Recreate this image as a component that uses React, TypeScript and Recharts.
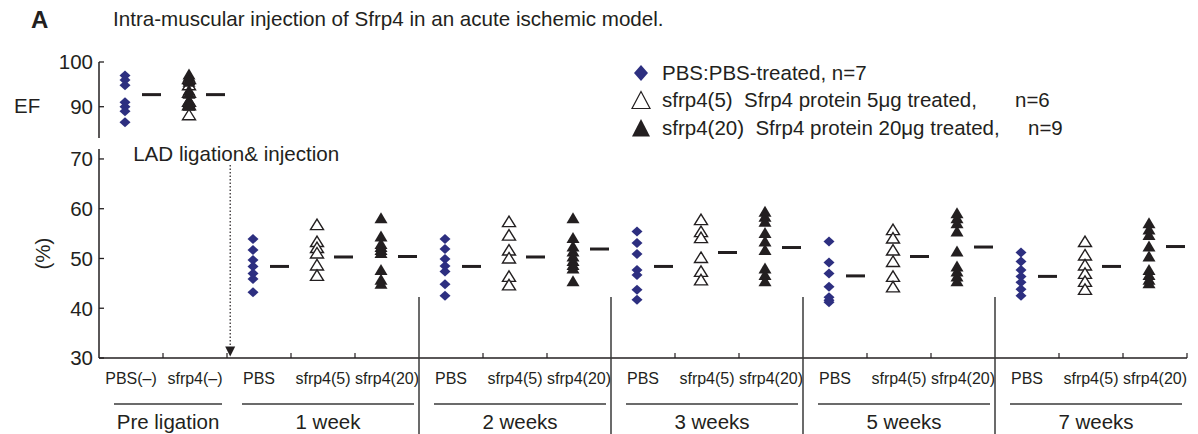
import React from 'react';
import {Legend, ReferenceDot, ReferenceLine, Scatter, ScatterChart, XAxis, YAxis} from 'recharts';

// x axis: one slot per column, grouped by time point
const CATEGORIES = [
    'PBS(–)', 'sfrp4(–)',
    'PBS', 'sfrp4(5)', 'sfrp4(20)',
    'PBS', 'sfrp4(5)', 'sfrp4(20)',
    'PBS', 'sfrp4(5)', 'sfrp4(20)',
    'PBS', 'sfrp4(5)', 'sfrp4(20)',
    'PBS', 'sfrp4(5)', 'sfrp4(20)',
];
const GROUP_LABELS = ['Pre ligation', '1 week', '2 weeks', '3 weeks', '5 weeks', '7 weeks'];
const GROUP_SIZES = [2, 3, 3, 3, 3, 3];

// EF (%) before ligation, upper panel
const PRE_PBS = [97, 96, 94.8, 91, 90, 89, 86.5];
const PRE_SFRP5 = [96.3, 94.9, 93.2, 91.2, 90.4, 88.2];
const PRE_SFRP20 = [97.2, 96.7, 96.0, 95.6, 93.6, 92.9, 91.4, 90.8, 90.2];
const PRE_MEANS = [92.7, 92.7];

// EF (%) after ligation, one row per time point (1, 2, 3, 5, 7 weeks)
const PBS_WEEKS = [
    [53.9, 51.7, 49.7, 48.4, 47.0, 45.9, 43.2],
    [53.9, 51.9, 49.9, 48.5, 47.4, 44.8, 42.5],
    [55.4, 53.1, 50.9, 47.7, 46.7, 43.7, 41.7],
    [53.4, 49.2, 47.0, 44.3, 42.2, 41.6, 41.2],
    [51.2, 49.4, 47.7, 46.4, 45.2, 43.8, 42.5],
];
const SFRP5_WEEKS = [
    [56.8, 53.4, 52.2, 51.1, 48.7, 46.6],
    [57.4, 54.7, 51.7, 50.1, 46.4, 44.7],
    [57.8, 55.4, 54.2, 50.2, 47.4, 45.7],
    [55.8, 54.1, 51.7, 49.4, 46.4, 44.3],
    [53.4, 50.7, 48.7, 47.0, 45.4, 43.8],
];
const SFRP20_WEEKS = [
    [58.1, 54.4, 52.9, 52.3, 51.7, 51.1, 47.7, 45.7, 44.9],
    [58.1, 54.1, 52.4, 51.4, 50.4, 49.5, 48.7, 48.0, 45.4],
    [59.4, 58.4, 57.4, 55.1, 53.4, 51.7, 48.0, 46.7, 45.4],
    [59.1, 58.1, 57.1, 55.4, 51.4, 48.4, 47.4, 46.4, 45.4],
    [57.1, 55.8, 54.7, 52.4, 50.4, 47.7, 46.7, 45.7, 45.0],
];
const PBS_MEANS = [48.4, 48.4, 48.4, 46.5, 46.4];
const SFRP5_MEANS = [50.3, 50.3, 51.2, 50.4, 48.4];
const SFRP20_MEANS = [50.4, 51.9, 52.2, 52.3, 52.4];

const LOWER_TICKS = [30, 40, 50, 60, 70];
const UPPER_TICKS = [90, 100];
const LIGATION_AT = 1.55;

const LEGEND_LABELS = ['PBS:PBS-treated, n=7', 'sfrp4(5)  Sfrp4 protein 5\u03bcg treated,', 'sfrp4(20)  Sfrp4 protein 20\u03bcg treated,'];
const LEGEND_COUNTS = ['', 'n=6', 'n=9'];

const W = 1198;
const H = 434;
const LEFT = 99;
const RIGHT = 11;
const BAND = (W - LEFT - RIGHT) / CATEGORIES.length;
const INK = '#231f20';
const NAVY = '#2d2f80';
const FONT = "'Liberation Sans', Arial, Helvetica, sans-serif";
const X_DOMAIN: [number, number] = [-0.5, CATEGORIES.length - 0.5];

const groupStart = GROUP_SIZES.map((_, g) => GROUP_SIZES.slice(0, g).reduce((a, b) => a + b, 0));
const groupOf = CATEGORIES.map((_, i) => groupStart.filter((s) => s <= i).length - 1);

const weekPoints = (weeks: number[][], offset: number) =>
    weeks.flatMap((vals, w) => vals.map((y) => ({x: groupStart[w + 1] + offset, y})));
const weekMeans = (means: number[], offset: number) =>
    means.map((y, w) => ({x: groupStart[w + 1] + offset, y}));

const pbsData = weekPoints(PBS_WEEKS, 0);
const sfrp5Data = weekPoints(SFRP5_WEEKS, 1);
const sfrp20Data = weekPoints(SFRP20_WEEKS, 2);
const meanData = [...weekMeans(PBS_MEANS, 0), ...weekMeans(SFRP5_MEANS, 1), ...weekMeans(SFRP20_MEANS, 2)];
const prePbs = PRE_PBS.map((y) => ({x: 0, y}));
const preSfrp5 = PRE_SFRP5.map((y) => ({x: 1, y}));
const preSfrp20 = PRE_SFRP20.map((y) => ({x: 1, y}));
const preMeans = PRE_MEANS.map((y, i) => ({x: i, y}));

const DX = -6;

const Diamond = ({cx, cy}: any) => {
    const px = cx + DX;
    return <polygon points={`${px},${cy - 5} ${px + 5.5},${cy} ${px},${cy + 5} ${px - 5.5},${cy}`} fill={NAVY}/>;
};
const OpenTriangle = ({cx, cy}: any) => {
    const px = cx + DX;
    return <polygon points={`${px},${cy - 5.5} ${px + 6.5},${cy + 5} ${px - 6.5},${cy + 5}`} fill="#fff" stroke={INK} strokeWidth={1.4}/>;
};
const FilledTriangle = ({cx, cy}: any) => {
    const px = cx + DX;
    return <polygon points={`${px},${cy - 6} ${px + 6.5},${cy + 5} ${px - 6.5},${cy + 5}`} fill={INK}/>;
};
const MeanDash = ({cx, cy}: any) => (
    <line x1={cx + 11} x2={cx + 30} y1={cy} y2={cy} stroke={INK} strokeWidth={3}/>
);

function ValueTick({x, y, payload}: any) {
    return (
        <g>
            <line x1={x} x2={x + 5} y1={y} y2={y} stroke={INK} strokeWidth={1.3}/>
            <text x={x - 6} y={y} dy="0.36em" textAnchor="end" fontSize={20.5} fill={INK}>{payload.value}</text>
        </g>
    );
}

function CategoryTick({x, y, payload}: any) {
    const i = payload.value as number;
    const g = groupOf[i];
    const start = groupStart[g];
    const end = start + GROUP_SIZES[g] - 1;
    const isDividerAfter = i === end && g >= 1 && g < GROUP_SIZES.length - 1;
    const x0 = x - 17;
    const x1 = x + (end - start) * BAND + 27;
    return (
        <g>
            <text x={x} y={y + 26} textAnchor="middle" fontSize={16} fill={INK}>{CATEGORIES[i]}</text>
            {!isDividerAfter && (
                <line x1={x + BAND / 2} x2={x + BAND / 2} y1={y} y2={y - 5} stroke={INK} strokeWidth={1.2}/>
            )}
            {i === start && g >= 2 && (
                <line x1={x - BAND / 2} x2={x - BAND / 2} y1={y - 61} y2={y + 76} stroke="#3a3a3a" strokeWidth={1.5}/>
            )}
            {i === start && (
                <g>
                    <line x1={x0} x2={x1} y1={y + 46} y2={y + 46} stroke="#3a3a3a" strokeWidth={1.5}/>
                    <text x={(x0 + x1) / 2} y={y + 71} textAnchor="middle" fontSize={20.5} fill={INK}>{GROUP_LABELS[g]}</text>
                </g>
            )}
        </g>
    );
}

const legendIcons = [
    <polygon key="d" points="11,3 18,11 11,19 4,11" fill={NAVY}/>,
    <polygon key="o" points="11,2.5 20,19.5 2,19.5" fill="#fff" stroke={INK} strokeWidth={1.2}/>,
    <polygon key="f" points="11,2 20,19.5 2,19.5" fill={INK}/>,
];
const COUNT_LEFT = [0, 385, 398];

const renderLegend = () => (
    <div style={{position: 'relative', width: 560, height: 84, fontSize: 20.5, color: INK, fontFamily: FONT}}>
        {LEGEND_LABELS.map((label, k) => (
            <div key={k} style={{position: 'absolute', top: k * 27.5, left: 0, width: 560, height: 27.5, display: 'flex', alignItems: 'center', whiteSpace: 'pre'}}>
                <svg width={22} height={22} style={{flex: 'none'}}>{legendIcons[k]}</svg>
                <span style={{marginLeft: 10}}>{label}</span>
                {LEGEND_COUNTS[k] && (
                    <span style={{position: 'absolute', left: COUNT_LEFT[k]}}>{LEGEND_COUNTS[k]}</span>
                )}
            </div>
        ))}
    </div>
);

export default function App() {
    return (
        <div style={{position: 'absolute', left: 0, top: 0, width: W, height: H, background: '#fff', fontFamily: FONT, color: INK}}>
            <div style={{position: 'absolute', left: 31, top: 8, fontSize: 24, lineHeight: 1, fontWeight: 'bold'}}>A</div>
            <div style={{position: 'absolute', left: 113, top: 9, fontSize: 20.6, lineHeight: 1}}>
                Intra-muscular injection of Sfrp4 in an acute ischemic model.
            </div>

            <div style={{position: 'absolute', left: 0, top: 0}}>
                <ScatterChart width={W} height={H} margin={{top: 149, right: RIGHT, bottom: 0, left: 0}}>
                    <XAxis dataKey="x" type="number" domain={X_DOMAIN} ticks={CATEGORIES.map((_, i) => i)} interval={0}
                           height={76} tickSize={0} tickMargin={0} tickLine={false}
                           axisLine={{stroke: INK, strokeWidth: 1.5}} tick={(p: any) => <CategoryTick {...p}/>}/>
                    <YAxis dataKey="y" type="number" domain={[30, 72]} ticks={LOWER_TICKS} width={LEFT}
                           tickSize={0} tickMargin={0} tickLine={false} axisLine={{stroke: INK, strokeWidth: 1.5}}
                           tick={(p: any) => <ValueTick {...p}/>}
                           label={{value: '(%)', angle: -90, position: 'center', dx: -7, fontSize: 20.5, fill: INK}}/>
                    <ReferenceLine segment={[{x: LIGATION_AT, y: 68.8}, {x: LIGATION_AT, y: 32.3}]} ifOverflow="visible"
                                   stroke={INK} strokeWidth={1.2} strokeDasharray="1.5 2"/>
                    <ReferenceDot x={LIGATION_AT} y={31.3} ifOverflow="visible"
                                  shape={({cx, cy}: any) => (
                                      <polygon points={`${cx - 5},${cy - 5} ${cx + 5},${cy - 5} ${cx},${cy + 5}`} fill={INK}/>
                                  )}/>
                    <ReferenceDot x={LIGATION_AT} y={69.6} ifOverflow="visible"
                                  shape={({cx, cy}: any) => (
                                      <text x={cx + 6} y={cy} textAnchor="middle" fontSize={20.6} fill={INK}>LAD ligation&amp; injection</text>
                                  )}/>
                    <Scatter data={pbsData} shape={Diamond} isAnimationActive={false}/>
                    <Scatter data={sfrp5Data} shape={OpenTriangle} isAnimationActive={false}/>
                    <Scatter data={sfrp20Data} shape={FilledTriangle} isAnimationActive={false}/>
                    <Scatter data={meanData} shape={MeanDash} isAnimationActive={false}/>
                </ScatterChart>
            </div>

            <div style={{position: 'absolute', left: 0, top: 0}}>
                <ScatterChart width={W} height={140} margin={{top: 62, right: RIGHT, bottom: 2, left: 0}}>
                    <XAxis dataKey="x" type="number" domain={X_DOMAIN} hide/>
                    <YAxis dataKey="y" type="number" domain={[83, 100]} ticks={UPPER_TICKS} width={LEFT}
                           tickSize={0} tickMargin={0} tickLine={false} axisLine={{stroke: INK, strokeWidth: 1.5}}
                           tick={(p: any) => <ValueTick {...p}/>}
                           label={{value: 'EF', position: 'insideLeft', offset: 14, dy: 6, fontSize: 20.5, fill: INK}}/>
                    <Legend layout="horizontal" verticalAlign="middle" align="center" content={renderLegend}
                            wrapperStyle={{position: 'absolute', left: 630, top: 59, width: 560, height: 84}}/>
                    <Scatter data={prePbs} shape={Diamond} isAnimationActive={false}/>
                    <Scatter data={preSfrp5} shape={OpenTriangle} isAnimationActive={false}/>
                    <Scatter data={preSfrp20} shape={FilledTriangle} isAnimationActive={false}/>
                    <Scatter data={preMeans} shape={MeanDash} isAnimationActive={false}/>
                </ScatterChart>
            </div>
        </div>
    );
}
